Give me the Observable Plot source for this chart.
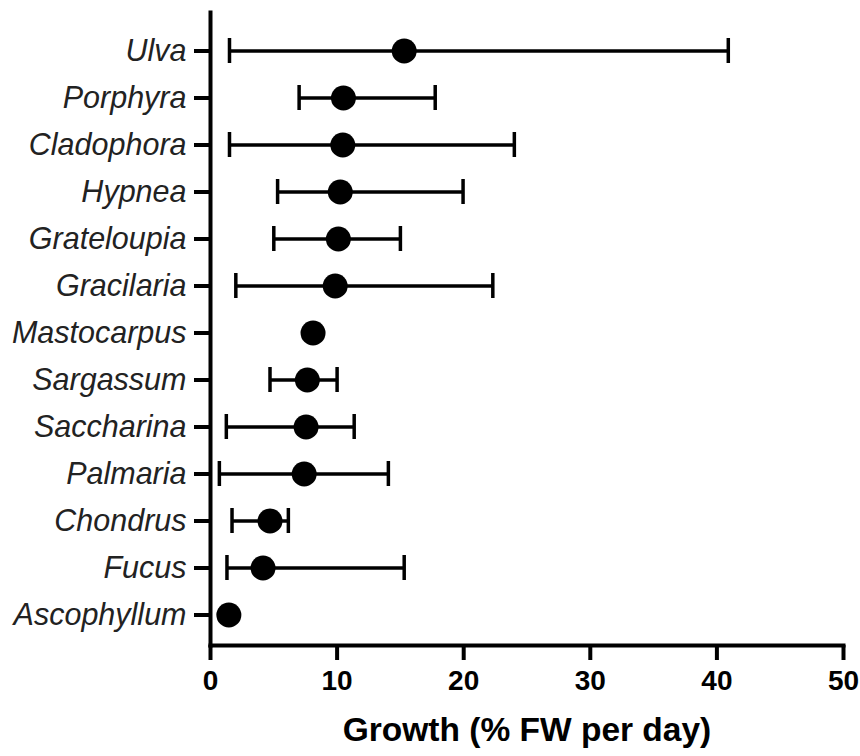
<!DOCTYPE html>
<html>
<head>
<meta charset="utf-8">
<script src="https://cdn.jsdelivr.net/npm/d3@7"></script>
<script src="https://cdn.jsdelivr.net/npm/@observablehq/plot@0.6"></script>
<style>
  html, body { margin: 0; padding: 0; background: #fff; }
  #chart svg { display: block; }
</style>
</head>
<body>
<div id="chart"></div>
<script>
const species = ["Ulva","Porphyra","Cladophora","Hypnea","Grateloupia","Gracilaria","Mastocarpus","Sargassum","Saccharina","Palmaria","Chondrus","Fucus","Ascophyllum"];
const growth  = [15.3, 10.5, 10.45, 10.25, 10.1, 9.85, 8.1, 7.65, 7.55, 7.4, 4.7, 4.15, 1.45];
const low     = [1.5, 7.0, 1.5, 5.3, 5.0, 2.0, null, 4.7, 1.25, 0.7, 1.7, 1.3, null];
const high    = [40.9, 17.75, 24.0, 19.95, 15.0, 22.3, null, 10.0, 11.35, 14.05, 6.15, 15.3, null];
const xTicks  = [0, 10, 20, 30, 40, 50];
const xLabel  = "Growth (% FW per day)";

const data = species.map((s, i) => ({species: s, growth: growth[i], low: low[i], high: high[i]}));
const bars = data.filter(d => d.low != null && d.high != null);

const font = "'Liberation Sans', Arial, Helvetica, sans-serif";

const chart = Plot.plot({
  width: 860,
  height: 756,
  marginTop: 12,
  marginBottom: 111,
  marginLeft: 210,
  marginRight: 17,
  style: {fontFamily: font, color: "#000", background: "#fff"},
  x: {domain: [0, 50]},
  y: {type: "band", domain: species, paddingInner: 0, paddingOuter: 0.214, align: 0.68},
  marks: [
    Plot.ruleY(bars, {y: "species", x1: "low", x2: "high", stroke: "#000", strokeWidth: 3.5}),
    Plot.tickX(bars, {y: "species", x: "low", stroke: "#000", strokeWidth: 3.5, insetTop: 11, insetBottom: 11}),
    Plot.tickX(bars, {y: "species", x: "high", stroke: "#000", strokeWidth: 3.5, insetTop: 11, insetBottom: 11}),
    Plot.dot(data, {y: "species", x: "growth", r: 12.5, fill: "#000", stroke: "none"}),
    Plot.frame({anchor: "left", stroke: "#000", strokeWidth: 4}),
    Plot.frame({anchor: "bottom", stroke: "#000", strokeWidth: 4}),
    Plot.axisY({tickSize: 16, tickPadding: 8, strokeWidth: 4, fontSize: 30.5, fontStyle: "italic", label: null, fill: "#222"}),
    Plot.axisX({ticks: xTicks, tickSize: 15, tickPadding: 10, strokeWidth: 4, fontSize: 28, fontWeight: "bold", label: null}),
    Plot.text([xLabel], {frameAnchor: "bottom", dy: 95, fontSize: 33.5, fontWeight: "bold", fill: "#000"})
  ]
});
document.getElementById("chart").appendChild(chart);
</script>
</body>
</html>
